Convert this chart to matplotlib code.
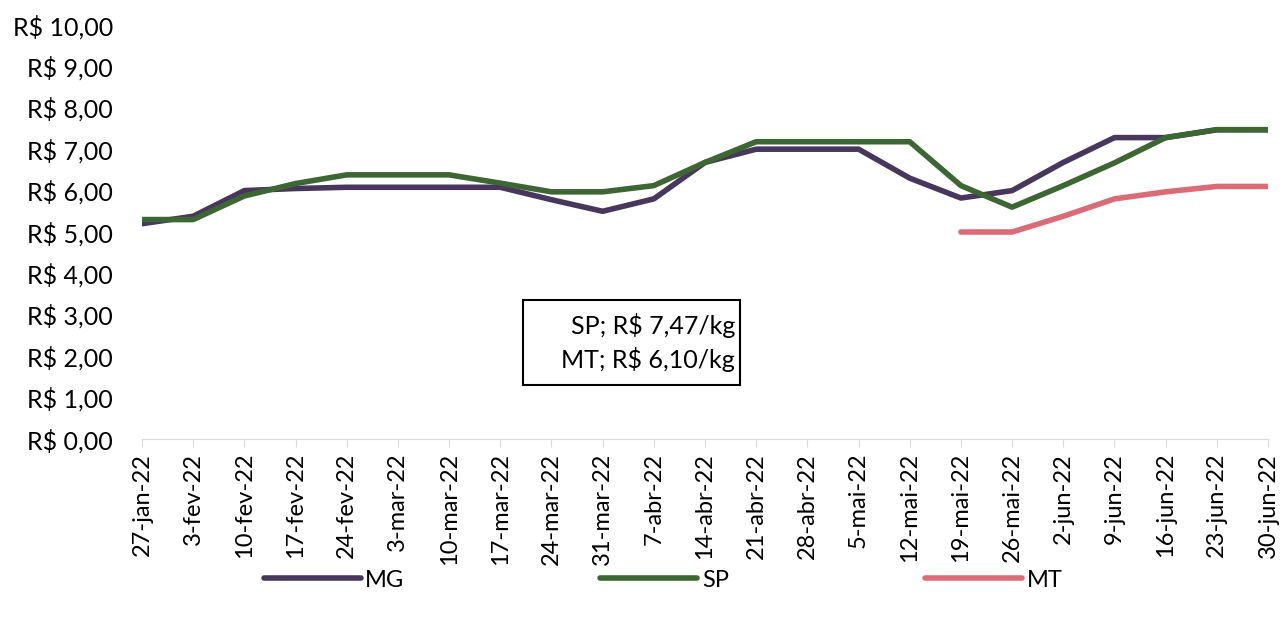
import numpy as np
import matplotlib.pyplot as plt
from matplotlib.patches import Rectangle
from matplotlib.ticker import FuncFormatter

plt.rcParams['font.family'] = ['Lato', 'DejaVu Sans']

# ---------- data ----------
dates = ["27-jan-22", "3-fev-22", "10-fev-22", "17-fev-22", "24-fev-22",
         "3-mar-22", "10-mar-22", "17-mar-22", "24-mar-22", "31-mar-22",
         "7-abr-22", "14-abr-22", "21-abr-22", "28-abr-22", "5-mai-22",
         "12-mai-22", "19-mai-22", "26-mai-22", "2-jun-22", "9-jun-22",
         "16-jun-22", "23-jun-22", "30-jun-22"]

mg = [5.20, 5.38, 6.00, 6.05, 6.08, 6.08, 6.08, 6.08, 5.78, 5.50,
      5.80, 6.68, 7.00, 7.00, 7.00, 6.30, 5.82, 6.00, 6.68, 7.28,
      7.28, 7.47, 7.47]
sp = [5.30, 5.30, 5.87, 6.17, 6.38, 6.38, 6.38, 6.18, 5.97, 5.97,
      6.12, 6.68, 7.18, 7.18, 7.18, 7.18, 6.12, 5.60, 6.12, 6.67,
      7.28, 7.47, 7.47]
mt = [np.nan] * 16 + [5.00, 5.00, 5.38, 5.80, 5.97, 6.10, 6.10]

note_lines = ["SP; R$ 7,47/kg", "MT; R$ 6,10/kg"]

colors = {"MG": "#47375c", "SP": "#3c6632", "MT": "#dc6b78"}

# ---------- plot ----------
fig = plt.figure(figsize=(12.85, 6.18), dpi=100)
ax = fig.add_axes([0.1105, 0.2896, 0.8763, 0.67])

x = np.arange(len(dates))
for name, vals in [("MG", mg), ("SP", sp), ("MT", mt)]:
    ax.plot(x, vals, color=colors[name], lw=4, label=name,
            solid_capstyle="round", solid_joinstyle="round")

ax.set_xlim(0, len(dates) - 1)
ax.set_ylim(0, 10)
ax.set_yticks(np.arange(0, 11, 1))
ax.yaxis.set_major_formatter(FuncFormatter(lambda v, p: f"R$ {v:.2f}".replace(".", ",")))
ax.set_xticks(x)
ax.set_xticklabels(dates, rotation=90)

for s in ["top", "right", "left"]:
    ax.spines[s].set_visible(False)
ax.spines["bottom"].set_color("#d9d9d9")
ax.tick_params(axis="y", length=0, labelsize=18, pad=21)
ax.tick_params(axis="x", length=6, color="#d9d9d9", labelsize=17, pad=4)

# price note box
fig.patches.append(Rectangle((0.407, 0.377), 0.169, 0.1375, transform=fig.transFigure,
                             fc="white", ec="black", lw=1.5, zorder=5))
fig.text(0.572, 0.446, "\n".join(note_lines), fontsize=18, ha="right", va="center",
         multialignment="right", linespacing=1.45, zorder=6)

fig.legend(loc="lower center", bbox_to_anchor=(0.516, 0.01), ncol=3, frameon=False,
           fontsize=17, columnspacing=8.3, handlelength=4.1, handletextpad=0.2)

fig.savefig("out.png", dpi=100)
